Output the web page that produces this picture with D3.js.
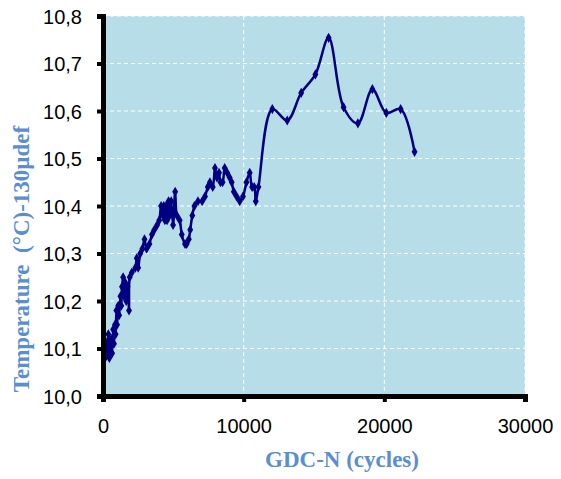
<!DOCTYPE html>
<html><head><meta charset="utf-8">
<script src="https://cdn.jsdelivr.net/npm/d3@7"></script>
<style>
html,body{margin:0;padding:0;background:#fff;}
svg{display:block;}
</style></head>
<body>
<svg id="chart" width="561" height="479"></svg>
<script>
// Data: cycles (N) and temperature (°C)
const cycles = [0,80,150,220,300,380,450,520,600,650,720,780,850,900,950,1000,1080,1150,1240,1300,1350,1430,1500,1560,1650,1750,1850,1900,2050,2300,2400,2500,2650,2800,2950,3100,3300,3480,3650,3850,4000,4130,4250,4320,4400,4480,4560,4660,4740,4850,4980,5130,5250,5450,5600,5830,5950,6100,6200,6350,6500,6750,7050,7250,7450,7600,7800,7960,8100,8250,8350,8500,8650,8830,9000,9150,9300,9500,9720,9950,10200,10430,10600,10750,10860,11050,12036,13097,14087,15099,16040,17100,18120,19150,20140,21160,22150];
const temps = [10.10,10.12,10.08,10.11,10.09,10.13,10.08,10.10,10.12,10.09,10.14,10.11,10.15,10.13,10.18,10.15,10.19,10.17,10.21,10.19,10.23,10.25,10.21,10.24,10.20,10.23,10.18,10.25,10.26,10.27,10.29,10.27,10.30,10.31,10.33,10.31,10.32,10.34,10.35,10.36,10.37,10.40,10.38,10.40,10.37,10.40,10.37,10.41,10.38,10.41,10.36,10.43,10.38,10.37,10.34,10.32,10.32,10.33,10.35,10.38,10.40,10.41,10.41,10.42,10.44,10.45,10.44,10.48,10.46,10.47,10.45,10.45,10.48,10.47,10.46,10.45,10.43,10.42,10.41,10.42,10.45,10.47,10.44,10.44,10.41,10.44,10.604,10.580,10.638,10.677,10.754,10.608,10.574,10.646,10.596,10.604,10.514];
const xTicks = [0,10000,20000,30000];
const yTicks = [10.0,10.1,10.2,10.3,10.4,10.5,10.6,10.7,10.8];
const xTitle = "GDC-N (cycles)";
const yTitle = "Temperature  (°C)-130µdef";

const svg = d3.select("#chart");
const L = 103, R = 525, T = 16, B = 396;
const x = d3.scaleLinear().domain([0,30000]).range([L,R]);
const y = d3.scaleLinear().domain([10.0,10.8]).range([B,T]);

// plot background
svg.append("rect").attr("x",L).attr("y",T).attr("width",R-L).attr("height",B-T).attr("fill","#B7DEE8");

// grid
const g = svg.append("g");
g.selectAll(".hg").data(yTicks.slice(1)).enter().append("line")
  .attr("x1",L).attr("x2",R).attr("y1",d=>y(d)).attr("y2",d=>y(d))
  .attr("stroke","#fff").attr("stroke-width",1).attr("stroke-dasharray","4,3");
g.selectAll(".vg").data(xTicks.slice(1)).enter().append("line")
  .attr("y1",T).attr("y2",B).attr("x1",d=>x(d)).attr("x2",d=>x(d))
  .attr("stroke","#fff").attr("stroke-width",1).attr("stroke-dasharray","4,3");

// series
const pts = cycles.map((c,i)=>[c,temps[i]]);
const line = d3.line().x(d=>x(d[0])).y(d=>y(d[1])).curve(d3.curveCatmullRom.alpha(0.5));
svg.append("path").attr("d",line(pts)).attr("fill","none").attr("stroke","#000080").attr("stroke-width",2.5).attr("stroke-linejoin","round");
const sym = d3.symbol().type(d3.symbolDiamond).size(30);
svg.selectAll(".m").data(pts).enter().append("path")
  .attr("d",sym).attr("transform",d=>`translate(${x(d[0])},${y(d[1])})`)
  .attr("fill","#000080");

// axes
const xAxis = d3.axisBottom(x).tickValues(xTicks).tickSize(6).tickFormat(d=>String(d));
const yAxis = d3.axisLeft(y).tickValues(yTicks).tickSize(6).tickFormat(d=>d.toFixed(1).replace(".",","));
const ax = svg.append("g").attr("transform",`translate(0,${B})`).call(xAxis);
const ay = svg.append("g").attr("transform",`translate(${L},0)`).call(yAxis);
[ax,ay].forEach(a=>{
  a.select(".domain").attr("stroke","#000").attr("stroke-width",5);
  a.selectAll(".tick line").attr("stroke","#000").attr("stroke-width",4);
  a.selectAll("text").attr("fill","#000").style("font-family","'Liberation Sans', Arial, sans-serif").style("font-size","20px");
});
ax.selectAll("text").attr("dy","0").attr("y",37);
ay.selectAll("text").attr("x",-21).attr("dy","0.35em");

// titles
svg.append("text").attr("x",342).attr("y",467).attr("text-anchor","middle")
  .style("font-family","'Liberation Serif','Times New Roman',serif").style("font-weight","bold").style("font-size","23px")
  .attr("fill","#5A8ED0").text(xTitle);
svg.append("text").attr("transform","translate(29,259) rotate(-90)").attr("text-anchor","middle")
  .style("font-family","'Liberation Serif','Times New Roman',serif").style("font-weight","bold").style("font-size","23px")
  .style("white-space","pre")
  .attr("fill","#5A8ED0").text(yTitle);
</script>
</body></html>
